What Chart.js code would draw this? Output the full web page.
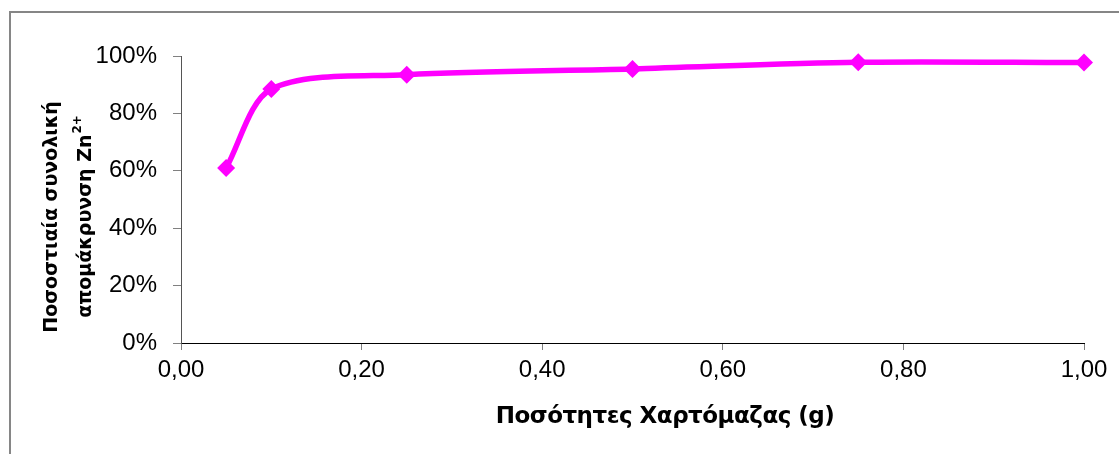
<!DOCTYPE html>
<html>
<head>
<meta charset="utf-8">
<script src="https://cdn.jsdelivr.net/npm/chart.js@4/dist/chart.umd.min.js"></script>
<style>
  html, body { margin: 0; padding: 0; background: #ffffff; }
  #wrap { width: 1119px; height: 454px; position: relative; }
  canvas { display: block; }
</style>
</head>
<body>
<div id="wrap"><canvas id="chart" width="1119" height="454"></canvas></div>
<script>
// Paper mass used (g) and total Zn2+ removal fraction
const amounts = [0.05, 0.10, 0.25, 0.50, 0.75, 1.00];
const removal = [0.61, 0.885, 0.935, 0.955, 0.978, 0.977];

const xTicks = [0, 0.2, 0.4, 0.6, 0.8, 1.0];
const yTicks = [0, 0.2, 0.4, 0.6, 0.8, 1.0];

const xTitle = 'Ποσότητες Χαρτόμαζας (g)';
const yTitleLine1 = 'Ποσοστιαία συνολική';
const yTitleLine2 = 'απομάκρυνση Zn';
const yTitleSup = '2+';

const FONT = '"Liberation Sans", Arial, sans-serif';
const TITLE_FONT = '"DejaVu Sans", Tahoma, sans-serif';
const MAGENTA = '#FF00FF';

// Outer frame and axis titles drawn on the canvas
const decorations = {
  id: 'decorations',
  beforeDraw(chart) {
    const ctx = chart.ctx;
    ctx.save();
    ctx.strokeStyle = '#868686';
    ctx.lineWidth = 2;
    ctx.beginPath();
    ctx.moveTo(10, chart.height + 2);
    ctx.lineTo(10, 12);
    ctx.lineTo(chart.width + 2, 12);
    ctx.stroke();
    ctx.restore();
  },
  afterDraw(chart) {
    const ctx = chart.ctx;
    ctx.save();
    ctx.fillStyle = '#000000';
    // x-axis title
    ctx.font = 'bold 23px ' + TITLE_FONT;
    ctx.letterSpacing = '-0.5px';
    ctx.textAlign = 'center';
    ctx.textBaseline = 'alphabetic';
    ctx.fillText(xTitle, 665, 423);
    ctx.letterSpacing = '0px';

    // y-axis title, two lines rotated
    const cy = 217;
    ctx.save();
    ctx.translate(52, cy);
    ctx.rotate(-Math.PI / 2);
    ctx.font = 'bold 19px ' + TITLE_FONT;
    ctx.textAlign = 'center';
    ctx.textBaseline = 'middle';
    ctx.fillText(yTitleLine1, 0, 0);
    ctx.restore();

    ctx.save();
    ctx.translate(86, cy);
    ctx.rotate(-Math.PI / 2);
    ctx.textBaseline = 'middle';
    ctx.font = 'bold 19px ' + TITLE_FONT;
    const w1 = ctx.measureText(yTitleLine2).width;
    ctx.font = 'bold 12px ' + TITLE_FONT;
    const w2 = ctx.measureText(yTitleSup).width;
    const start = -(w1 + w2) / 2;
    ctx.textAlign = 'left';
    ctx.font = 'bold 19px ' + TITLE_FONT;
    ctx.fillText(yTitleLine2, start, 0);
    ctx.font = 'bold 12px ' + TITLE_FONT;
    ctx.fillText(yTitleSup, start + w1 + 1, -8);
    ctx.restore();
    ctx.restore();
  }
};

const fmtComma = v => v.toFixed(2).replace('.', ',');
const fmtPct = v => Math.round(v * 100) + '%';

new Chart(document.getElementById('chart'), {
  type: 'scatter',
  data: {
    datasets: [{
      data: amounts.map((x, i) => ({ x, y: removal[i] })),
      showLine: true,
      clip: false,
      borderColor: MAGENTA,
      borderWidth: 5.5,
      tension: 0.3,
      pointStyle: 'rectRot',
      pointRadius: 9,
      pointHoverRadius: 9,
      pointBackgroundColor: MAGENTA,
      pointBorderColor: MAGENTA,
      pointBorderWidth: 0
    }]
  },
  options: {
    responsive: false,
    animation: false,
    events: [],
    layout: { padding: { top: 56, right: 35, left: 0, bottom: 0 } },
    plugins: {
      legend: { display: false },
      tooltip: { enabled: false }
    },
    scales: {
      x: {
        type: 'linear',
        min: 0,
        max: 1,
        afterBuildTicks: s => { s.ticks = xTicks.map(v => ({ value: v })); },
        afterFit: s => { s.height = 111; },
        ticks: {
          callback: v => fmtComma(v),
          font: { family: FONT, size: 24 },
          color: '#000000',
          padding: 6,
          maxRotation: 0
        },
        grid: {
          drawOnChartArea: false,
          drawTicks: true,
          tickLength: 7,
          color: '#808080',
          tickWidth: 1
        },
        border: { color: '#000000', width: 1 }
      },
      y: {
        type: 'linear',
        min: 0,
        max: 1,
        afterBuildTicks: s => { s.ticks = yTicks.map(v => ({ value: v })); },
        afterFit: s => { s.width = 181; },
        ticks: {
          callback: v => fmtPct(v),
          font: { family: FONT, size: 24 },
          color: '#000000',
          padding: 16
        },
        grid: {
          drawOnChartArea: false,
          drawTicks: true,
          tickLength: 8,
          color: '#808080',
          tickWidth: 1
        },
        border: { color: '#555555', width: 1 }
      }
    }
  },
  plugins: [decorations]
});
</script>
</body>
</html>
